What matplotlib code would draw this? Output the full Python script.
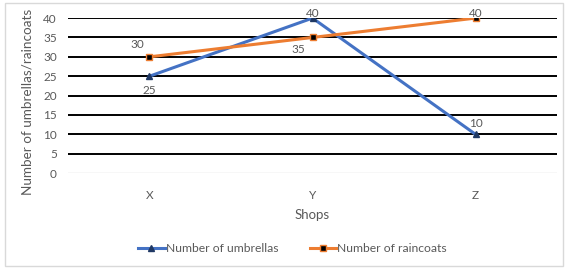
import matplotlib.pyplot as plt
from matplotlib.patches import Rectangle

shops = ['X', 'Y', 'Z']
umbrellas = [25, 40, 10]
raincoats = [30, 35, 40]
yticks = list(range(0, 45, 5))

plt.rcParams['font.family'] = ['Lato', 'DejaVu Sans']

fig = plt.figure(figsize=(5.68, 2.70), dpi=100)
fig.patches.append(Rectangle((0.008, 0.015), 0.984, 0.975, transform=fig.transFigure,
                             fill=False, edgecolor='#d9d9d9', linewidth=1))
ax = fig.add_axes([0.1197, 0.359, 0.861, 0.574])

x = [i + 0.5 for i in range(len(shops))]
for y in yticks[1:]:
    ax.axhline(y, color='black', linewidth=1.4, zorder=1)
ax.axhline(0, color='#d9d9d9', linewidth=1, zorder=1)

ax.plot(x, umbrellas, color='#4472C4', linewidth=2.2, marker='^', markersize=5,
        markerfacecolor='#1F3864', markeredgecolor='#1F3864', label='Number of umbrellas', zorder=3)
ax.plot(x, raincoats, color='#ED7D31', linewidth=2.2, marker='s', markersize=5,
        markerfacecolor='black', markeredgecolor='#ED7D31', label='Number of raincoats', zorder=3)

lab = dict(fontsize=8.5, color='#595959', ha='center')
ax.annotate(str(umbrellas[0]), (x[0], umbrellas[0]), xytext=(0, -10), textcoords='offset points', va='center', **lab)
ax.annotate(str(umbrellas[1]), (x[1], umbrellas[1]), xytext=(0, 3), textcoords='offset points', va='center', **lab)
ax.annotate(str(umbrellas[2]), (x[2], umbrellas[2]), xytext=(0, 8), textcoords='offset points', va='center', **lab)
ax.annotate(str(raincoats[0]), (x[0], raincoats[0]), xytext=(-9, 9), textcoords='offset points', va='center', **lab)
ax.annotate(str(raincoats[1]), (x[1], raincoats[1]), xytext=(-10, -9), textcoords='offset points', va='center', **lab)
ax.annotate(str(raincoats[2]), (x[2], raincoats[2]), xytext=(0, 3), textcoords='offset points', va='center', **lab)

ax.set_xlim(0, 3)
ax.set_ylim(0, 40)
ax.set_xticks(x)
ax.set_xticklabels(shops)
ax.set_yticks(yticks)
ax.tick_params(length=0, labelsize=8.5, labelcolor='#595959')
ax.tick_params(axis='x', pad=12)
ax.tick_params(axis='y', pad=8)
for s in ax.spines.values():
    s.set_visible(False)
ax.set_xlabel('Shops', fontsize=9.5, color='#595959', labelpad=6)
ax.set_ylabel('Number of umbrellas/raincoats', fontsize=9.7, color='#595959')
ax.yaxis.set_label_coords(-0.07, 0.46)

fig.legend(loc='center', bbox_to_anchor=(0.515, 0.08), ncol=2, frameon=False, fontsize=8.7,
           labelcolor='#595959', handlelength=2.2, handletextpad=0.1, columnspacing=2.6)

fig.savefig('out.png', dpi=100)
